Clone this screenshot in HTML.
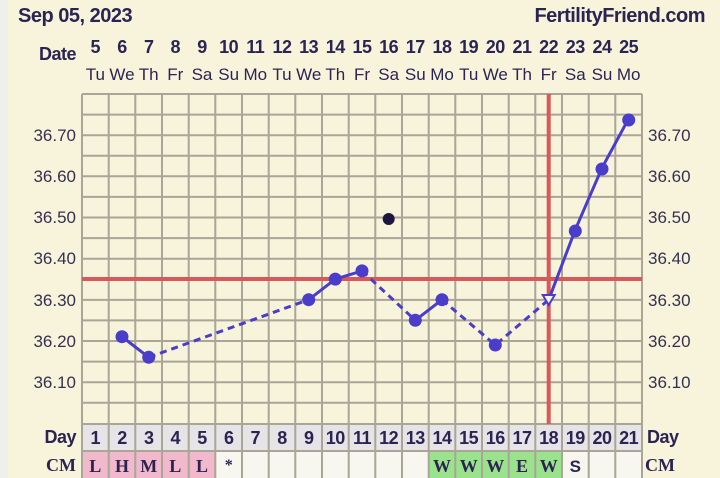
<!DOCTYPE html><html><head><style>body{margin:0;background:#f8f4dc}svg{display:block}</style></head><body>
<svg width="720" height="478" xmlns="http://www.w3.org/2000/svg" font-family="Liberation Sans, sans-serif">
<rect width="720" height="478" fill="#f8f4dc"/>
<rect width="8" height="478" fill="#efefec"/>
<text x="18" y="22" font-size="20" font-weight="bold" fill="#2b2452" letter-spacing="-0.5">Sep 05, 2023</text>
<text x="705" y="22" font-size="20" font-weight="bold" fill="#2b2452" text-anchor="end" letter-spacing="-0.5">FertilityFriend.com</text>
<text x="76" y="60" font-size="18" font-weight="bold" fill="#2b2452" text-anchor="end" letter-spacing="-0.5">Date</text>
<g font-size="18" font-weight="bold" fill="#2b2452" text-anchor="middle" letter-spacing="-0.5">
<text x="95.3" y="53">5</text><text x="122" y="53">6</text><text x="148.7" y="53">7</text><text x="175.3" y="53">8</text><text x="202" y="53">9</text><text x="228.7" y="53">10</text><text x="255.3" y="53">11</text><text x="282" y="53">12</text><text x="308.7" y="53">13</text><text x="335.3" y="53">14</text><text x="362" y="53">15</text><text x="388.7" y="53">16</text><text x="415.3" y="53">17</text><text x="442" y="53">18</text><text x="468.7" y="53">19</text><text x="495.3" y="53">20</text><text x="522" y="53">21</text><text x="548.7" y="53">22</text><text x="575.3" y="53">23</text><text x="602" y="53">24</text><text x="628.7" y="53">25</text>
</g>
<g font-size="17" fill="#2b2452" text-anchor="middle">
<text x="95.3" y="80">Tu</text><text x="122" y="80">We</text><text x="148.7" y="80">Th</text><text x="175.3" y="80">Fr</text><text x="202" y="80">Sa</text><text x="228.7" y="80">Su</text><text x="255.3" y="80">Mo</text><text x="282" y="80">Tu</text><text x="308.7" y="80">We</text><text x="335.3" y="80">Th</text><text x="362" y="80">Fr</text><text x="388.7" y="80">Sa</text><text x="415.3" y="80">Su</text><text x="442" y="80">Mo</text><text x="468.7" y="80">Tu</text><text x="495.3" y="80">We</text><text x="522" y="80">Th</text><text x="548.7" y="80">Fr</text><text x="575.3" y="80">Sa</text><text x="602" y="80">Su</text><text x="628.7" y="80">Mo</text>
</g>
<rect x="82" y="424" width="560" height="27" fill="#e6e4e6"/>
<rect x="82" y="451" width="560" height="27" fill="#f7f6ef"/>
<rect x="82" y="451" width="133.3" height="27" fill="#f2b8cc"/>
<rect x="428.7" y="451" width="133.3" height="27" fill="#9be28c"/>
<g stroke="#a9a597" stroke-width="2" fill="none">
<path d="M82,94V478M108.7,94V478M135.3,94V478M162,94V478M188.7,94V478M215.3,94V478M242,94V478M268.7,94V478M295.3,94V478M322,94V478M348.7,94V478M375.3,94V478M402,94V478M428.7,94V478M455.3,94V478M482,94V478M508.7,94V478M535.3,94V478M562,94V478M588.7,94V478M615.3,94V478M642,94V478"/>
<path d="M82,94H642M82,114.6H642M82,135.2H642M82,155.8H642M82,176.3H642M82,196.9H642M82,217.5H642M82,238.1H642M82,258.7H642M82,279.3H642M82,299.9H642M82,320.4H642M82,341H642M82,361.6H642M82,382.2H642M82,402.8H642M82,424H642M82,451H642"/>
</g>
<g font-size="17" fill="#35304f" text-anchor="end">
<text x="76" y="141">36.70</text><text x="76" y="182">36.60</text><text x="76" y="223">36.50</text><text x="76" y="264">36.40</text><text x="76" y="306">36.30</text><text x="76" y="347">36.20</text><text x="76" y="388">36.10</text>
</g>
<g font-size="17" fill="#35304f">
<text x="648" y="141">36.70</text><text x="648" y="182">36.60</text><text x="648" y="223">36.50</text><text x="648" y="264">36.40</text><text x="648" y="306">36.30</text><text x="648" y="347">36.20</text><text x="648" y="388">36.10</text>
</g>
<text x="76" y="443" font-size="18" font-weight="bold" fill="#2b2452" text-anchor="end" letter-spacing="-0.5">Day</text>
<text x="647" y="443" font-size="18" font-weight="bold" fill="#2b2452" letter-spacing="-0.5">Day</text>
<text x="76" y="471" font-size="18" font-weight="bold" fill="#2b2452" text-anchor="end" font-family="Liberation Serif, serif">CM</text>
<text x="645" y="471" font-size="18" font-weight="bold" fill="#2b2452" font-family="Liberation Serif, serif">CM</text>
<g font-size="18" font-weight="bold" fill="#2b2452" text-anchor="middle" letter-spacing="-0.5">
<text x="95.3" y="444">1</text><text x="122" y="444">2</text><text x="148.7" y="444">3</text><text x="175.3" y="444">4</text><text x="202" y="444">5</text><text x="228.7" y="444">6</text><text x="255.3" y="444">7</text><text x="282" y="444">8</text><text x="308.7" y="444">9</text><text x="335.3" y="444">10</text><text x="362" y="444">11</text><text x="388.7" y="444">12</text><text x="415.3" y="444">13</text><text x="442" y="444">14</text><text x="468.7" y="444">15</text><text x="495.3" y="444">16</text><text x="522" y="444">17</text><text x="548.7" y="444">18</text><text x="575.3" y="444">19</text><text x="602" y="444">20</text><text x="628.7" y="444">21</text>
</g>
<g font-size="18" font-weight="bold" fill="#2b2452" text-anchor="middle" font-family="Liberation Serif, serif">
<text x="95.3" y="472">L</text><text x="122" y="472">H</text><text x="148.7" y="472">M</text><text x="175.3" y="472">L</text><text x="202" y="472">L</text><text x="228.7" y="470" font-size="16">*</text>
<text x="442" y="472">W</text><text x="468.7" y="472">W</text><text x="495.3" y="472">W</text><text x="522" y="472">E</text><text x="548.7" y="472">W</text>
<text x="575.3" y="472" font-family="Liberation Sans, sans-serif" font-size="17">S</text>
</g>
<rect x="82" y="277" width="560" height="4" fill="#d9585a"/>
<rect x="546.7" y="94" width="4" height="330" fill="#d9585a"/>
<g stroke="#4a3dc9" stroke-width="3" fill="none">
<path d="M122,336.7L148.7,357.3M308.7,299.7L335.3,279.1L362,270.9M415.3,320.3L442,299.7M548.7,299.7L575.3,229.7L602,167.9L628.7,118.5"/>
<path stroke-dasharray="7,5" d="M148.7,357.3L308.7,299.7M362,270.9L415.3,320.3M442,299.7L495.3,345L548.7,299.7"/>
</g>
<g fill="#4a3dc9">
<circle cx="122" cy="336.7" r="6.5"/><circle cx="148.7" cy="357.3" r="6.5"/><circle cx="308.7" cy="299.7" r="6.5"/><circle cx="335.3" cy="279.1" r="6.5"/><circle cx="362" cy="270.9" r="6.5"/><circle cx="415.3" cy="320.3" r="6.5"/><circle cx="442" cy="299.7" r="6.5"/><circle cx="495.3" cy="345" r="6.5"/><circle cx="575.3" cy="231" r="6.5"/><circle cx="602" cy="169" r="6.5"/><circle cx="628.7" cy="120" r="6.5"/>
</g>
<circle cx="388.7" cy="219" r="6" fill="#1c1740"/>
<path d="M542.7,295 L554.7,295 L548.7,305 Z" fill="#f8f4dc" stroke="#4a3dc9" stroke-width="2"/>
</svg>
</body></html>
